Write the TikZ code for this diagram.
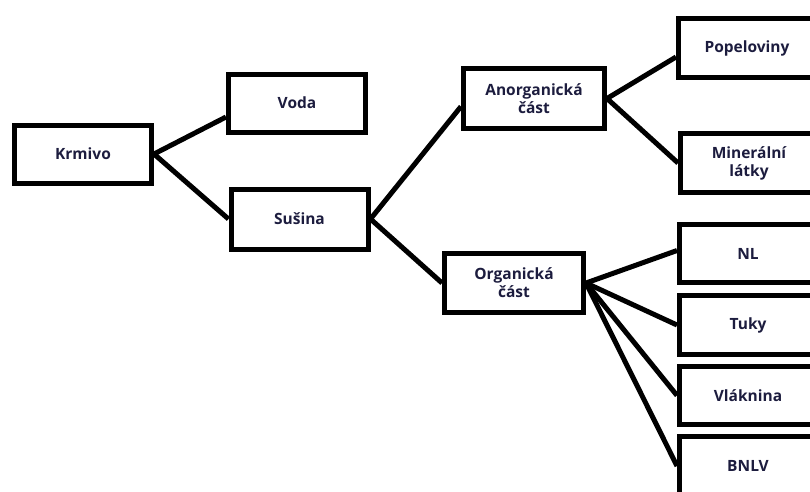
\documentclass[tikz,border=0pt]{standalone}
\usepackage{fontspec}
\setmainfont{Open Sans}
\definecolor{txt}{RGB}{28,28,62}
\begin{document}
\begin{tikzpicture}[x=1pt,y=-1pt,
  box/.style={draw=black,line width=5pt,rectangle,minimum width=137pt,minimum height=58pt,
    align=center,font=\fontsize{15.5}{18}\selectfont\bfseries,text=txt,inner sep=0pt},
  conn/.style={draw=black,line width=5pt}]
\useasboundingbox (0,0) rectangle (810,491);
\clip (0,0) rectangle (810,491);
\node[box] (krmivo) at (83,154) {Krmivo};
\node[box] (voda) at (297,103) {Voda};
\node[box,minimum height=60pt] (susina) at (299.5,219) {Sušina};
\node[box,minimum width=141pt,minimum height=60pt] (anorg) at (534,98.5) {Anorganická\\část};
\node[box,minimum height=59pt] (popel) at (747,48) {Popeloviny};
\node[box,minimum height=59pt] (miner) at (749,163) {Minerální\\látky};
\node[box,minimum width=139pt,minimum height=59pt] (org) at (514,283) {Organická\\část};
\node[box] (nl) at (748,253.5) {NL};
\node[box,minimum height=59pt] (tuky) at (748,325) {Tuky};
\node[box] (vlak) at (748,395.5) {Vláknina};
\node[box,minimum height=59pt] (bnlv) at (748,466) {BNLV};
\draw[conn] (krmivo.east) -- ([yshift=-14pt]voda.west);
\draw[conn] (krmivo.east) -- (susina.west);
\draw[conn] (susina.east) -- ([yshift=-8pt]anorg.west);
\draw[conn] (susina.east) -- (org.west);
\draw[conn] (anorg.east) -- ([yshift=-9pt]popel.west);
\draw[conn] (anorg.east) -- (miner.west);
\draw[conn] (org.east) -- ([yshift=3pt]nl.west);
\draw[conn] (org.east) -- (tuky.west);
\draw[conn] (org.east) -- (vlak.west);
\draw[conn] (org.east) -- (bnlv.west);
\end{tikzpicture}
\end{document}
